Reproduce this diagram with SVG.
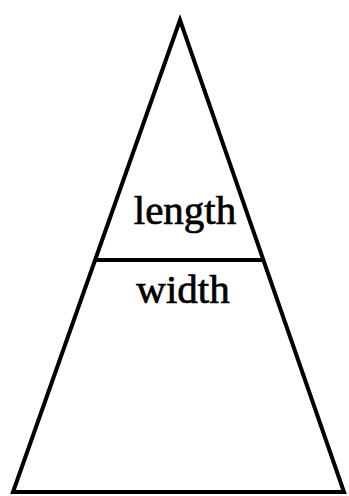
<svg xmlns="http://www.w3.org/2000/svg" width="349" height="496" viewBox="0 0 349 496">
<style>
.ln{stroke:#000;stroke-width:4;fill:none;stroke-linejoin:miter}
.lbl{font-family:"Liberation Serif","Times New Roman",serif;font-size:41px;fill:#000;stroke:#000;stroke-width:0.7;text-anchor:middle}
</style>
<rect width="349" height="496" fill="#fff"/>
<g id="triangle">
<polygon class="ln" points="180,20 13,492 344,492"/>
</g>
<g id="connectors">
<line class="ln" x1="95" y1="260" x2="264" y2="260"/>
</g>
<g id="length">
<text class="lbl" x="185" y="224">length</text>
</g>
<g id="width">
<text class="lbl" x="183" y="303">width</text>
</g>
</svg>
